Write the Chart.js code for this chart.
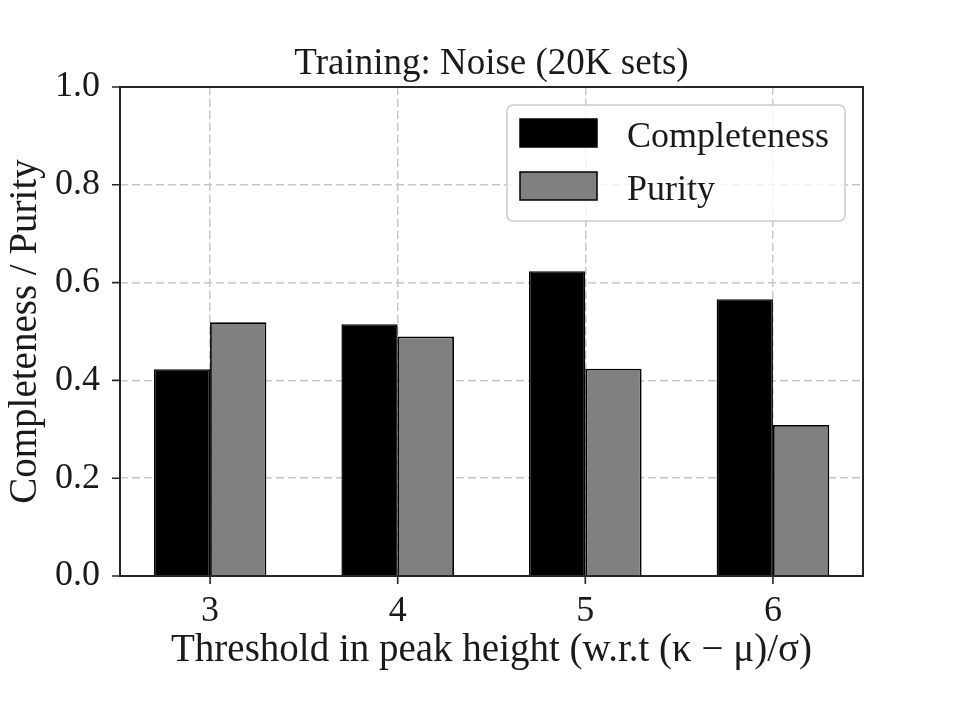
<!DOCTYPE html>
<html>
<head>
<meta charset="utf-8">
<script src="https://cdn.jsdelivr.net/npm/chart.js@4.4.0/dist/chart.umd.min.js"></script>
<style>
  html, body { margin: 0; padding: 0; background: #fff; }
  #wrap { width: 960px; height: 720px; }
</style>
</head>
<body>
<div id="wrap"><canvas id="grafico" width="960" height="720"></canvas></div>
<script>
const limiares = [3, 4, 5, 6];
const completeness = [0.423, 0.515, 0.623, 0.566];
const purity = [0.519, 0.490, 0.424, 0.309];
const yTicks = [0, 0.2, 0.4, 0.6, 0.8, 1.0];
const titulo = 'Training: Noise (20K sets)';

const serif = "'Liberation Serif', 'DejaVu Serif', serif";
const tinta = '#1a1a1a';

/* titulo, moldura, marcas dos ticks e legenda */
const moldura = {
  id: 'moldura',
  afterDatasetsDraw(chart) {
    const { ctx, chartArea: a, scales: { x, y } } = chart;
    ctx.save();

    ctx.fillStyle = tinta;
    ctx.font = "37px " + serif;
    ctx.textAlign = 'center';
    ctx.textBaseline = 'alphabetic';
    ctx.fillText(titulo, (a.left + a.right) / 2, a.top - 13);

    ctx.strokeStyle = '#262626';
    ctx.lineWidth = 2;
    ctx.strokeRect(a.left, a.top, a.right - a.left, a.bottom - a.top);

    ctx.lineWidth = 1.6;
    ctx.beginPath();
    limiares.forEach(v => {
      const px = x.getPixelForValue(v);
      ctx.moveTo(px, a.bottom);
      ctx.lineTo(px, a.bottom + 8);
    });
    yTicks.forEach(v => {
      const py = y.getPixelForValue(v);
      ctx.moveTo(a.left, py);
      ctx.lineTo(a.left - 8, py);
    });
    ctx.stroke();

    // legenda
    const bx = a.right - 356, by = a.top + 18, bw = 338, bh = 116;
    ctx.beginPath();
    ctx.roundRect(bx, by, bw, bh, 6);
    ctx.fillStyle = 'rgba(255,255,255,0.8)';
    ctx.fill();
    ctx.strokeStyle = '#cccccc';
    ctx.lineWidth = 1.5;
    ctx.stroke();

    ctx.font = "36px " + serif;
    ctx.textAlign = 'left';
    ctx.textBaseline = 'alphabetic';
    chart.data.datasets.forEach((ds, i) => {
      const sy = by + 14 + i * 53;
      ctx.fillStyle = ds.backgroundColor;
      ctx.fillRect(bx + 13, sy, 77, 28);
      ctx.strokeStyle = ds.borderColor;
      ctx.lineWidth = 1.5;
      ctx.strokeRect(bx + 13, sy, 77, 28);
      ctx.fillStyle = tinta;
      ctx.fillText(ds.label, bx + 120, sy + 28);
    });
    ctx.restore();
  }
};

new Chart(document.getElementById('grafico'), {
  type: 'bar',
  data: {
    datasets: [
      {
        label: 'Completeness',
        data: limiares.map((t, i) => ({ x: t, y: completeness[i] })),
        backgroundColor: '#000000',
        borderColor: '#000000',
        borderWidth: 1.5,
      },
      {
        label: 'Purity',
        data: limiares.map((t, i) => ({ x: t, y: purity[i] })),
        backgroundColor: '#808080',
        borderColor: '#000000',
        borderWidth: 1.8,
      },
    ],
  },
  options: {
    responsive: false,
    animation: false,
    categoryPercentage: 0.6,
    barPercentage: 1.0,
    layout: { padding: { left: 0, right: 97, top: 87, bottom: 0 } },
    plugins: {
      legend: { display: false },
      tooltip: { enabled: false },
      title: { display: false },
    },
    scales: {
      x: {
        type: 'linear',
        min: 2.52,
        max: 6.48,
        offset: false,
        afterBuildTicks: s => { s.ticks = limiares.map(v => ({ value: v })); },
        afterFit: s => { s.height = 144; },
        grid: { offset: false, color: '#c8c8c8', lineWidth: 1.5, drawTicks: false },
        border: { display: false, dash: [8, 4] },
        ticks: {
          color: tinta,
          padding: 14,
          font: { family: serif, size: 36 },
          callback: v => String(v),
        },
        title: {
          display: true,
          text: 'Threshold in peak height (w.r.t (κ − μ)/σ)',
          color: tinta,
          font: { family: serif, size: 39 },
          padding: { top: 0, bottom: 46 },
        },
      },
      y: {
        min: 0,
        max: 1,
        afterBuildTicks: s => { s.ticks = yTicks.map(v => ({ value: v })); },
        afterFit: s => { s.width = 120; },
        grid: { color: '#c8c8c8', lineWidth: 1.5, drawTicks: false },
        border: { display: false, dash: [8, 4] },
        ticks: {
          color: tinta,
          padding: 20,
          font: { family: serif, size: 36 },
          callback: v => v.toFixed(1),
        },
        title: {
          display: true,
          text: 'Completeness / Purity',
          color: tinta,
          font: { family: serif, size: 39 },
          padding: { top: 2, bottom: 0 },
        },
      },
    },
  },
  plugins: [moldura],
});
</script>
</body>
</html>
